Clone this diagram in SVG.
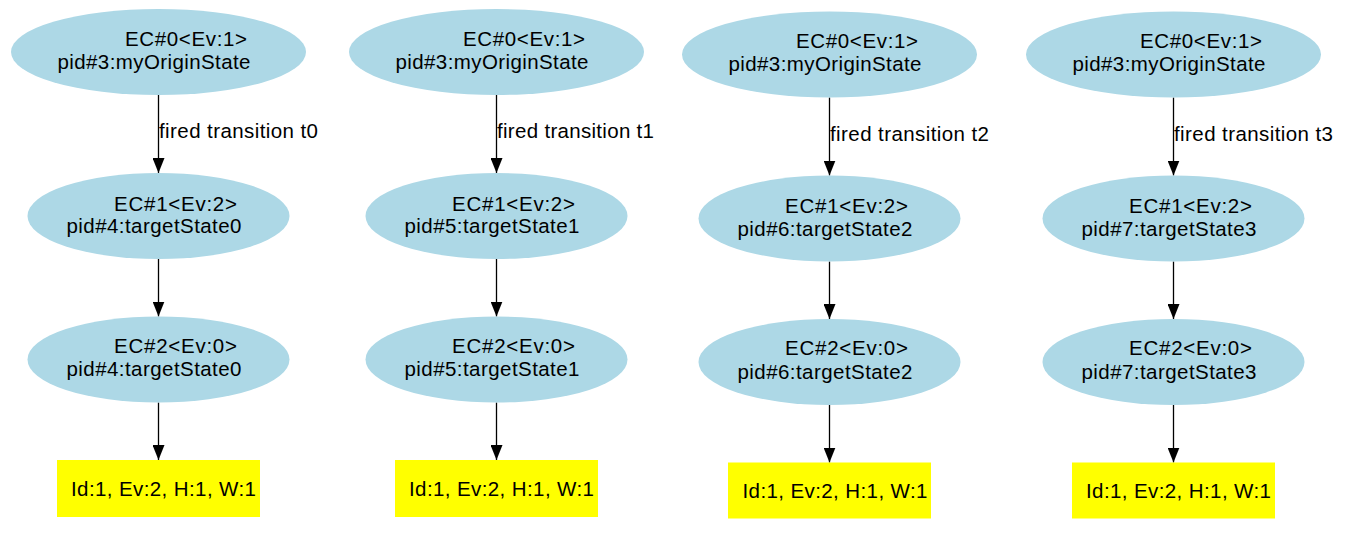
<svg xmlns="http://www.w3.org/2000/svg" width="1355" height="533" viewBox="0 0 1355 533">
<defs>
<style>
.st{fill:#ADD8E6;stroke:none}
.res{fill:#FFFF00;stroke:none}
text{font-family:"Liberation Sans",Arial,sans-serif;font-size:20.5px;fill:#000}
.edge{stroke:#000;stroke-width:1.3;fill:none;marker-end:url(#ah)}
</style>
<marker id="ah" markerUnits="userSpaceOnUse" markerWidth="15" markerHeight="12" refX="15" refY="6" orient="auto" viewBox="0 0 15 12">
<path d="M0,0 L15,6 L0,12 z" fill="#000"/>
</marker>
</defs>
<rect width="1355" height="533" fill="#fff"/>

<g id="connectors">
<line class="edge" x1="158.5" y1="95" x2="158.5" y2="173"/>
<line class="edge" x1="158.5" y1="259" x2="158.5" y2="316.5"/>
<line class="edge" x1="158.5" y1="402.5" x2="158.5" y2="460"/>
<text x="159" y="138.3" textLength="159" lengthAdjust="spacing">fired transition t0</text>

<line class="edge" x1="496.5" y1="95" x2="496.5" y2="173"/>
<line class="edge" x1="496.5" y1="259" x2="496.5" y2="316.5"/>
<line class="edge" x1="496.5" y1="402.5" x2="496.5" y2="460"/>
<text x="497" y="138.3" textLength="157" lengthAdjust="spacing">fired transition t1</text>

<line class="edge" x1="829.5" y1="97.5" x2="829.5" y2="175.5"/>
<line class="edge" x1="829.5" y1="261.5" x2="829.5" y2="319"/>
<line class="edge" x1="829.5" y1="405" x2="829.5" y2="462.5"/>
<text x="830" y="140.8" textLength="159" lengthAdjust="spacing">fired transition t2</text>

<line class="edge" x1="1173.5" y1="97.5" x2="1173.5" y2="175.5"/>
<line class="edge" x1="1173.5" y1="261.5" x2="1173.5" y2="319"/>
<line class="edge" x1="1173.5" y1="405" x2="1173.5" y2="462.5"/>
<text x="1174" y="140.8" textLength="159" lengthAdjust="spacing">fired transition t3</text>
</g>

<!-- Column 0 -->
<g id="c0_ec0">
<ellipse class="st" cx="158.5" cy="52" rx="147.5" ry="43"/>
<text x="125" y="45.7" textLength="122" lengthAdjust="spacing">EC#0&lt;Ev:1&gt;</text>
<text x="57.5" y="68.5" textLength="193" lengthAdjust="spacing">pid#3:myOriginState</text>
</g>
<g id="c0_ec1">
<ellipse class="st" cx="158.5" cy="216" rx="131" ry="43"/>
<text x="114" y="210.7" textLength="123" lengthAdjust="spacing">EC#1&lt;Ev:2&gt;</text>
<text x="66.5" y="233.3" textLength="175" lengthAdjust="spacing">pid#4:targetState0</text>
</g>
<g id="c0_ec2">
<ellipse class="st" cx="158.5" cy="359.5" rx="131" ry="43"/>
<text x="114" y="352.7" textLength="123" lengthAdjust="spacing">EC#2&lt;Ev:0&gt;</text>
<text x="66.5" y="376" textLength="175" lengthAdjust="spacing">pid#4:targetState0</text>
</g>
<g id="c0_res">
<rect class="res" x="57" y="460" width="203" height="57"/>
<text x="71" y="496" textLength="185" lengthAdjust="spacing">Id:1, Ev:2, H:1, W:1</text>
</g>

<!-- Column 1 -->
<g id="c1_ec0">
<ellipse class="st" cx="496.5" cy="52" rx="147.5" ry="43"/>
<text x="463" y="45.7" textLength="122" lengthAdjust="spacing">EC#0&lt;Ev:1&gt;</text>
<text x="395.5" y="68.5" textLength="193" lengthAdjust="spacing">pid#3:myOriginState</text>
</g>
<g id="c1_ec1">
<ellipse class="st" cx="496.5" cy="216" rx="131" ry="43"/>
<text x="452" y="210.7" textLength="123" lengthAdjust="spacing">EC#1&lt;Ev:2&gt;</text>
<text x="404.5" y="233.3" textLength="175" lengthAdjust="spacing">pid#5:targetState1</text>
</g>
<g id="c1_ec2">
<ellipse class="st" cx="496.5" cy="359.5" rx="131" ry="43"/>
<text x="452" y="352.7" textLength="123" lengthAdjust="spacing">EC#2&lt;Ev:0&gt;</text>
<text x="404.5" y="376" textLength="175" lengthAdjust="spacing">pid#5:targetState1</text>
</g>
<g id="c1_res">
<rect class="res" x="395" y="460" width="203" height="57"/>
<text x="409" y="496" textLength="185" lengthAdjust="spacing">Id:1, Ev:2, H:1, W:1</text>
</g>

<!-- Column 2 -->
<g id="c2_ec0">
<ellipse class="st" cx="829.5" cy="54.5" rx="147.5" ry="43"/>
<text x="796" y="48.2" textLength="122" lengthAdjust="spacing">EC#0&lt;Ev:1&gt;</text>
<text x="728.5" y="71" textLength="193" lengthAdjust="spacing">pid#3:myOriginState</text>
</g>
<g id="c2_ec1">
<ellipse class="st" cx="829.5" cy="218.5" rx="131" ry="43"/>
<text x="785" y="213.2" textLength="123" lengthAdjust="spacing">EC#1&lt;Ev:2&gt;</text>
<text x="737.5" y="235.8" textLength="175" lengthAdjust="spacing">pid#6:targetState2</text>
</g>
<g id="c2_ec2">
<ellipse class="st" cx="829.5" cy="362" rx="131" ry="43"/>
<text x="785" y="355.2" textLength="123" lengthAdjust="spacing">EC#2&lt;Ev:0&gt;</text>
<text x="737.5" y="378.5" textLength="175" lengthAdjust="spacing">pid#6:targetState2</text>
</g>
<g id="c2_res">
<rect class="res" x="728" y="462.5" width="203" height="56"/>
<text x="742.5" y="498" textLength="185" lengthAdjust="spacing">Id:1, Ev:2, H:1, W:1</text>
</g>

<!-- Column 3 -->
<g id="c3_ec0">
<ellipse class="st" cx="1173.5" cy="54.5" rx="147.5" ry="43"/>
<text x="1140" y="48.2" textLength="122" lengthAdjust="spacing">EC#0&lt;Ev:1&gt;</text>
<text x="1072.5" y="71" textLength="193" lengthAdjust="spacing">pid#3:myOriginState</text>
</g>
<g id="c3_ec1">
<ellipse class="st" cx="1173.5" cy="218.5" rx="131" ry="43"/>
<text x="1129" y="213.2" textLength="123" lengthAdjust="spacing">EC#1&lt;Ev:2&gt;</text>
<text x="1081.5" y="235.8" textLength="175" lengthAdjust="spacing">pid#7:targetState3</text>
</g>
<g id="c3_ec2">
<ellipse class="st" cx="1173.5" cy="362" rx="131" ry="43"/>
<text x="1129" y="355.2" textLength="123" lengthAdjust="spacing">EC#2&lt;Ev:0&gt;</text>
<text x="1081.5" y="378.5" textLength="175" lengthAdjust="spacing">pid#7:targetState3</text>
</g>
<g id="c3_res">
<rect class="res" x="1072" y="462.5" width="203" height="56"/>
<text x="1086" y="498" textLength="185" lengthAdjust="spacing">Id:1, Ev:2, H:1, W:1</text>
</g>
</svg>
